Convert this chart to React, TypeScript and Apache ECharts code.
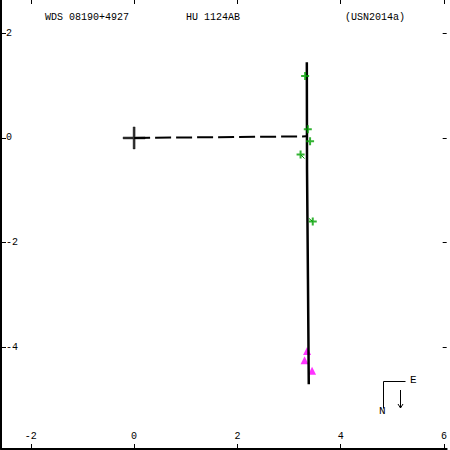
import React, { useEffect, useRef } from "react";
import * as echarts from "echarts";

const xTicks = [-2, 0, 2, 4, 6];
const yTicks = [-4, -2, 0, 2];
const xRange = [-2.577, 6.052];
const yRange = [-5.944, 2.636];

const titleLeft = "WDS 08190+4927";
const titleMid = "HU 1124AB";
const titleRight = "(USN2014a)";

const orbitPts: [number, number][] = [
  [3.344, 1.447],
  [3.348, -0.6],
  [3.366, -2.7],
  [3.382, -4.707],
];
const primary: [number, number][] = [[0, 0]];
const separationLine: [number, number][] = [
  [0, 0],
  [3.33, 0.03],
];
const obsGreen: [number, number][] = [
  [3.311, 1.185],
  [3.363, 0.166],
  [3.407, -0.063],
  [3.223, -0.317],
  [3.459, -1.598],
];
const residuals: [number, number][][] = [
  [
    [3.223, -0.317],
    [3.3, -0.394],
  ],
  [
    [3.459, -1.598],
    [3.382, -1.535],
  ],
];
const obsMagenta: [number, number][] = [
  [3.349, -4.07],
  [3.3, -4.25],
  [3.445, -4.45],
];

const FONT = "Liberation Mono";
const plusPath = "path://M3,0H5V3H8V5H5V8H3V5H0V3H3Z";
const bigCross = "path://M10,0H12V10H22V12H12V22H10V12H0V10H10Z";

export default function App() {
  const ref = useRef<HTMLDivElement>(null);
  useEffect(() => {
    if (!ref.current) return;
    const chart = echarts.init(ref.current, null, { renderer: "svg" });
    const tickStyle = { color: "#000", width: 1 };
    chart.setOption({
      animation: false,
      backgroundColor: "#fff",
      grid: { left: 1, right: 0, top: 0, bottom: 1 },
      xAxis: [
        {
          type: "value",
          position: "bottom",
          min: xRange[0],
          max: xRange[1],
          axisLine: { show: true, onZero: false, lineStyle: { color: "#000", width: 2 } },
          axisTick: { show: true, inside: true, length: 5, customValues: xTicks, lineStyle: tickStyle },
          axisLabel: {
            show: true,
            inside: true,
            margin: 8,
            customValues: xTicks,
            color: "#000",
            fontFamily: FONT,
            fontSize: 10,
          },
          splitLine: { show: false },
        },
        {
          type: "value",
          position: "top",
          min: xRange[0],
          max: xRange[1],
          axisLine: { show: false, onZero: false },
          axisTick: { show: true, inside: true, length: 4, customValues: xTicks, lineStyle: tickStyle },
          axisLabel: { show: false },
          splitLine: { show: false },
        },
      ],
      yAxis: [
        {
          type: "value",
          position: "left",
          min: yRange[0],
          max: yRange[1],
          axisLine: { show: true, onZero: false, lineStyle: { color: "#000", width: 2 } },
          axisTick: { show: true, inside: true, length: 5, customValues: yTicks, lineStyle: tickStyle },
          axisLabel: {
            show: true,
            inside: true,
            margin: 5,
            customValues: yTicks,
            color: "#000",
            fontFamily: FONT,
            fontSize: 10,
          },
          splitLine: { show: false },
        },
        {
          type: "value",
          position: "right",
          min: yRange[0],
          max: yRange[1],
          axisLine: { show: false, onZero: false },
          axisTick: { show: true, inside: true, length: 4, customValues: yTicks, lineStyle: tickStyle },
          axisLabel: { show: false },
          splitLine: { show: false },
        },
      ],
      graphic: [
        { type: "text", left: 45, top: 12, style: { text: titleLeft, font: `10px '${FONT}'`, fill: "#000" } },
        { type: "text", left: 186, top: 12, style: { text: titleMid, font: `10px '${FONT}'`, fill: "#000" } },
        { type: "text", left: 345, top: 12, style: { text: titleRight, font: `10px '${FONT}'`, fill: "#000" } },
        {
          type: "polyline",
          shape: { points: [[405.5, 381.5], [383.5, 381.5], [383.5, 408.5]] },
          style: { stroke: "#000", lineWidth: 1, fill: null },
        },
        {
          type: "polyline",
          shape: { points: [[400.5, 390], [400.5, 408]] },
          style: { stroke: "#000", lineWidth: 1, fill: null },
        },
        {
          type: "polyline",
          shape: { points: [[398, 404], [400.5, 408], [403, 404]] },
          style: { stroke: "#000", lineWidth: 1, fill: null },
        },
        { type: "text", x: 410, y: 374, style: { text: "E", font: `11px '${FONT}'`, fill: "#000" } },
        { type: "text", x: 379, y: 405, style: { text: "N", font: `11px '${FONT}'`, fill: "#000" } },
      ],
      series: [
        {
          type: "scatter",
          data: obsMagenta,
          symbol: "triangle",
          symbolSize: [8, 8],
          itemStyle: { color: "#ff00ff" },
          z: 2,
        },
        {
          type: "line",
          data: orbitPts,
          symbol: "none",
          lineStyle: { color: "#000", width: 2.5 },
          z: 3,
        },
        {
          type: "line",
          data: separationLine,
          symbol: "none",
          lineStyle: { color: "#000", width: 2, type: [16, 5] },
          z: 3,
        },
        {
          type: "scatter",
          data: primary,
          symbol: bigCross,
          symbolSize: 22,
          itemStyle: { color: "#000", borderColor: "#000", borderWidth: 0.5 },
          z: 4,
        },
        ...residuals.map((r) => ({
          type: "line",
          data: r,
          symbol: "none",
          lineStyle: { color: "#00a000", width: 1 },
          z: 4,
        })),
        {
          type: "scatter",
          data: obsGreen,
          symbol: plusPath,
          symbolSize: 8,
          itemStyle: { color: "#00a000" },
          z: 5,
        },
      ],
    });
    return () => chart.dispose();
  }, []);
  return (
    <div
      ref={ref}
      style={{ position: "absolute", left: 0, top: 0, width: 450, height: 450 }}
    />
  );
}
